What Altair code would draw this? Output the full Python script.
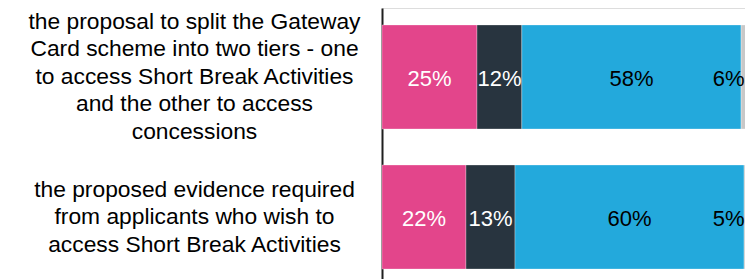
import altair as alt
import pandas as pd

categories = [
    "the proposal to split the Gateway\nCard scheme into two tiers - one\nto access Short Break Activities\nand the other to access\nconcessions",
    "the proposed evidence required\nfrom applicants who wish to\naccess Short Break Activities",
]
segments = ["Response 1", "Response 2", "Response 3", "Response 4"]
bar_colors = ["#E3458B", "#28343F", "#23A9DC", "#C8C8C8"]
text_colors = ["#ffffff", "#ffffff", "#000000", "#000000"]
values_1 = [25.0, 11.8, 57.7, 5.5]
values_2 = [22.1, 12.9, 60.3, 4.7]

rows = []
for cat, vals in zip(categories, [values_1, values_2]):
    for i, (seg, v) in enumerate(zip(segments, vals)):
        rows.append({"category": cat, "segment": seg, "order": i, "value": v})
df = pd.DataFrame(rows)

FONT = "Liberation Sans"
x_scale = alt.Scale(domain=[0, 100], range=[0, 380], nice=False, zero=True)

base = (
    alt.Chart(df)
    .transform_stack(
        stack="value",
        groupby=["category"],
        as_=["x0", "x1"],
        sort=[alt.SortField("order", order="ascending")],
    )
    .transform_calculate(
        lx="min((datum.x0 + datum.x1) / 2, 91.2)",
        label="format(datum.value, '.0f') + '%'",
    )
)

y_enc = alt.Y(
    "category:N",
    sort=categories,
    scale=alt.Scale(paddingInner=0.257, paddingOuter=0.121),
    axis=alt.Axis(
        title=None,
        domain=True,
        domainColor="#1f1f1f",
        domainWidth=2,
        ticks=False,
        tickSize=0,
        grid=False,
        labelPadding=188,
        labelAlign="center",
        labelBaseline="middle",
        labelFontSize=22.8,
        labelLineHeight=27.5,
        labelFont=FONT,
        labelColor="#000000",
        labelLimit=0,
        labelOffset={
            "condition": {"test": "indexof(datum.label, 'Gateway') >= 0", "value": -55},
            "value": -27.5,
        },
        labelExpr="split(datum.label, '\\n')",
    ),
)

bars = base.mark_bar(stroke="#ffffff", strokeWidth=0.6, strokeOpacity=0.5).encode(
    x=alt.X("x0:Q", scale=x_scale, axis=None),
    x2="x1:Q",
    y=y_enc,
    color=alt.Color(
        "segment:N",
        scale=alt.Scale(domain=segments, range=bar_colors),
        legend=None,
    ),
)

text = base.mark_text(fontSize=22, font=FONT, baseline="middle", align="center", dy=2).encode(
    x=alt.X("lx:Q", scale=x_scale, axis=None),
    y=alt.Y("category:N", sort=categories),
    text="label:N",
    color=alt.Color(
        "segment:N",
        scale=alt.Scale(domain=segments, range=text_colors),
        legend=None,
    ),
)

chart = (
    alt.layer(bars, text)
    .resolve_scale(color="independent")
    .properties(
        width=363,
        height=278,
        autosize=alt.AutoSizeParams(type="none"),
        padding={"left": 374, "top": 0, "right": 0, "bottom": 0},
    )
    .configure_view(stroke=None)
    .configure(background="white")
)

chart.save("out.html", embed_options={"renderer": "svg", "actions": False})
